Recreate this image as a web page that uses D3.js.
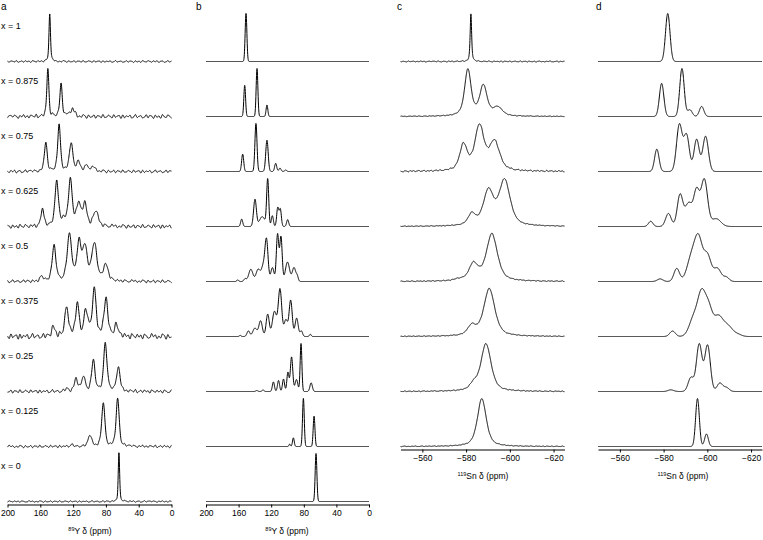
<!DOCTYPE html>
<html><head><meta charset="utf-8">
<script src="https://cdn.jsdelivr.net/npm/d3@7"></script>
<style>
body{margin:0;background:#fff;}
text{font-family:"Liberation Sans",Arial,sans-serif;fill:#000;}
</style></head>
<body><svg id="c" width="763" height="540"></svg>
<script>
// ---------- DATA ----------
const compositions = ["x = 1","x = 0.875","x = 0.75","x = 0.625","x = 0.5","x = 0.375","x = 0.25","x = 0.125","x = 0"];
const panelLetters = ["a","b","c","d"];
const ticksY = [200,160,120,80,40,0];
const ticksSn = [-560,-580,-600,-620];
const domainY = [200,0];
const domainSn = [-550,-625];

// peaks: [shift (ppm), relative height, FWHM (ppm)]
// a: experimental 89Y
const peaksA = [
  [[148.5,1,2.2]],
  [[150.8,1,3],[134.7,0.68,3.5],[124.6,0.1,4],[120.4,0.12,3],[117.5,0.07,3]],
  [[153.3,0.62,4],[137.1,1,4],[122.5,0.6,5],[113.5,0.2,5],[103.3,0.12,6],[95,0.08,6]],
  [[157.4,0.35,4],[139.9,0.85,5],[131,0.1,6],[123.4,0.85,5.5],[113.3,0.42,6],[105.7,0.4,6],[92.3,0.28,7]],
  [[158.2,0.08,4],[143.2,0.55,5.5],[124.5,0.72,6.5],[112.8,0.6,6],[105.5,0.52,6.5],[94.1,0.58,7.5],[80.1,0.25,7]],
  [[144,0.18,5],[127.8,0.52,5.5],[114.9,0.6,5],[104.3,0.45,6],[94.1,0.85,5.5],[79.9,0.7,5.5],[66.9,0.22,5]],
  [[127.8,0.05,5],[116.4,0.26,5],[107.5,0.3,5],[95.3,0.62,5],[80.7,0.97,5],[64.9,0.5,5]],
  [[121.8,0.03,5],[99.4,0.24,5],[83.2,0.9,4.5],[65.7,0.98,4.5]],
  [[64.1,1,2]]
];
// b: calculated 89Y
const peaksB = [
  [[150.9,1,2.5]],
  [[152.5,0.65,2.5],[137.4,1,2.5],[125.2,0.24,2.5]],
  [[155,0.36,3],[138.7,1,3],[125.2,0.65,3.5],[114.5,0.17,3],[109.2,0.07,3],[102.2,0.03,3]],
  [[156.2,0.15,3],[139.9,0.55,4],[131,0.2,8],[124.3,0.95,3],[118.6,0.22,3],[112,0.38,3],[108.8,0.35,3],[99.8,0.14,3]],
  [[161,0.03,2.5],[152,0.05,3.5],[145,0.22,6],[136,0.22,6],[130,0.25,5],[125.8,0.75,4.5],[118.5,0.25,4.5],[112.2,0.85,3.5],[108,0.8,3.5],[100,0.35,6],[92,0.25,5],[88,0.08,3]],
  [[158,0.02,2.5],[148,0.1,4],[140,0.15,6],[133,0.28,5],[124.3,0.4,4.5],[116,0.45,6],[109.2,0.85,5],[102,0.3,5],[96.1,0.65,4.5],[88.8,0.33,4.5],[83,0.1,3.5],[72,0.04,2.5]],
  [[137.7,0.02,3],[130,0.03,3],[117.3,0.2,3],[111,0.23,3],[104.9,0.26,3],[99.5,0.4,3],[95,0.72,3.5],[89,0.25,4],[83.4,1,2.5],[71,0.18,3.5]],
  [[97.3,0.05,2],[92.8,0.18,2.5],[80.5,1,2.5],[67.4,0.63,2.5]],
  [[65,1,2.5]]
];
// c: experimental 119Sn (no Sn at x = 0)
const peaksC = [
  [[-582.2,1,0.8]],
  [[-580.8,1,3.5],[-587.9,0.65,4],[-594.5,0.18,5]],
  [[-578.8,0.52,4],[-586.1,0.9,5],[-593,0.58,5.5]],
  [[-582.6,0.22,4],[-590.2,0.68,5.5],[-597.6,0.9,6]],
  [[-576.2,0.03,4],[-583.4,0.35,5],[-591.8,1,6]],
  [[-582.6,0.2,4.5],[-590.6,1,6]],
  [[-583.4,0.12,4],[-589.1,1,5.5]],
  [[-587.2,1,4.8]]
];
// d: calculated 119Sn
const peaksD = [
  [[-581.9,1,2.4]],
  [[-579.1,0.69,2.4],[-588.4,1,2.4],[-592,0.14,2.5],[-597.4,0.21,2.4]],
  [[-576.9,0.43,2.4],[-587.2,0.9,3],[-590.5,0.7,3],[-595.1,0.62,2.8],[-599.2,0.68,3]],
  [[-574.1,0.1,2.4],[-582.2,0.25,3],[-587.5,0.6,3],[-591.5,0.45,4],[-595.1,0.65,3],[-598.6,0.9,3.5],[-604,0.15,5]],
  [[-578.4,0.05,3],[-586,0.25,3],[-593,0.5,5],[-596.1,0.7,4],[-600,0.5,4],[-604.6,0.25,4],[-608.7,0.08,3]],
  [[-584.1,0.11,3],[-594,0.4,5],[-597.4,0.75,4],[-600.5,0.55,4],[-605,0.4,5],[-609.5,0.2,5],[-614,0.04,4]],
  [[-583.3,0.03,3],[-592.5,0.25,3],[-596.3,0.85,3],[-600.1,0.83,3],[-605.7,0.15,3],[-608.7,0.07,3]],
  [[-595.5,1,2],[-599.6,0.26,2]]
];
// baseline noise (read as ripple pattern) and per-row amplitude
const noisePattern = [0.4,-0.6,0.9,-0.3,-0.8,0.5,0.2,-0.9,0.7,-0.2,0.6,-0.7,0.1,0.8,-0.5,-0.1,0.9,-0.8,0.3,-0.4,0.6,-0.9,0.2,0.5,-0.6,0.8,-0.3,-0.7,0.4,0.1,-0.5,0.9,-0.2,-0.8,0.6,-0.1,0.3,-0.6,0.7,-0.9,0.5,0.2,-0.4,0.8,-0.7,0.1,0.6,-0.3,-0.5,0.9,-0.6,0.2,0.4,-0.8,0.7,-0.2,-0.4,0.6,-0.9,0.3,0.8,-0.5,0.1,-0.7,0.5,-0.1,0.9,-0.4,-0.6,0.2,0.7,-0.8,0.4,-0.3,0.6,-0.5,0.1,0.8,-0.9,0.3,-0.2,0.7,-0.6,0.5,-0.1,-0.8,0.9,-0.4,0.2,0.6,-0.7,0.3,-0.5,0.8,-0.2,0.4,-0.9,0.1,0.6,-0.3,0.5];
const noiseA = [0.022,0.045,0.035,0.045,0.035,0.065,0.04,0.03,0.018];
const noiseC = [0.012,0.008,0.016,0.008,0.01,0.008,0.01,0.008];

// ---------- DRAW ----------
const svg = d3.select("#c");
const ROW0 = 61.5, ROWSTEP = 55, ROWH = 48;

function profile(x, c, w, eta){
  const d = (x - c) / (w / 2);
  const L = 1 / (1 + d * d);
  const G = Math.exp(-Math.LN2 * d * d);
  return eta * L + (1 - eta) * G;
}
function noiseAt(ppm, step, offset){
  const f = Math.abs(ppm) / step + offset;
  const i = Math.floor(f), t = (1 - Math.cos(Math.PI * (f - i))) / 2, n = noisePattern.length;
  return noisePattern[i % n] * (1 - t) + noisePattern[(i + 1) % n] * t;
}

const panels = [
  {letter:"a", lx:1, peaks:peaksA, domain:domainY, range:[7.5,171.5], ticks:ticksY, eta:0.5, noise:noiseA, nstep:2.2, grid:0.2, nuc:"89", el:"Y", titleX:90},
  {letter:"b", lx:196, peaks:peaksB, domain:domainY, range:[206,369], ticks:ticksY, eta:0, noise:null, grid:0.2, nuc:"89", el:"Y", titleX:287},
  {letter:"c", lx:397, peaks:peaksC, domain:domainSn, range:[400.5,564.5], ticks:ticksSn, eta:0.6, noise:noiseC, nstep:0.8, grid:0.05, nuc:"119", el:"Sn", titleX:483},
  {letter:"d", lx:596, peaks:peaksD, domain:domainSn, range:[598,762], ticks:ticksSn, eta:0, noise:null, grid:0.05, nuc:"119", el:"Sn", titleX:683}
];

panels.forEach(p => {
  const x = d3.scaleLinear().domain(p.domain).range(p.range);
  const g = svg.append("g");
  const lo = Math.min(...p.domain), hi = Math.max(...p.domain);
  const grid = d3.range(lo, hi + p.grid/2, p.grid);
  p.peaks.forEach((pk, r) => {
    let vals = grid.map(s => pk.reduce((a, q) => a + q[1] * profile(s, q[0], q[2], p.eta), 0));
    const mx = d3.max(vals);
    vals = vals.map(v => v / mx);
    if (p.noise) vals = vals.map((v, k) => v + p.noise[r] * noiseAt(grid[k], p.nstep, r * 11));
    const base = ROW0 + ROWSTEP * r;
    const y = d3.scaleLinear().domain([0, 1]).range([base, base - ROWH]);
    g.append("path")
      .attr("d", d3.line().x((d, k) => x(grid[k])).y(d => y(d))(vals))
      .attr("fill", "none").attr("stroke", "#000").attr("stroke-width", 1)
      .attr("stroke-linejoin", "round");
  });
  const nRows = p.peaks.length;
  const axisY = ROW0 + ROWSTEP * (nRows - 1) + 3;
  const ax = svg.append("g").attr("transform", `translate(0,${axisY})`)
    .call(d3.axisBottom(x).tickValues(p.ticks).tickSize(3).tickSizeOuter(0).tickPadding(2));
  ax.select(".domain").attr("stroke", "#000").attr("stroke-width", 1);
  ax.selectAll(".tick line").attr("stroke", "#000");
  ax.selectAll(".tick text").attr("font-size", 8.5).attr("font-family", "Liberation Sans, Arial, sans-serif").attr("fill", "#000");
  const t = svg.append("text").attr("x", p.titleX).attr("y", axisY + 29).attr("text-anchor", "middle").attr("font-size", 8.5);
  t.append("tspan").attr("font-size", 5.5).attr("dy", -3).text(p.nuc);
  t.append("tspan").attr("dy", 3).text(p.el + " δ (ppm)");
  svg.append("text").attr("x", p.lx).attr("y", 10).attr("font-size", 10).text(p.letter);
});

compositions.forEach((c, i) => {
  svg.append("text").attr("x", 1).attr("y", 29 + ROWSTEP * i).attr("font-size", 9).text(c);
});
</script></body></html>
